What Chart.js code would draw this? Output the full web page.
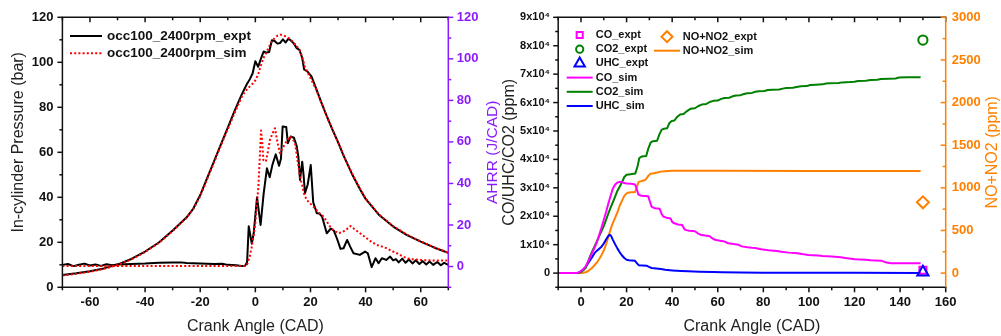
<!DOCTYPE html>
<html>
<head>
<meta charset="utf-8">
<title>Engine pressure, heat release and emissions</title>
<script src="https://cdn.jsdelivr.net/npm/chart.js@4.4.1/dist/chart.umd.min.js"></script>
<style>
  html, body { margin: 0; padding: 0; background: #fff; width: 1001px; height: 336px; overflow: hidden; }
  #wrap { position: relative; width: 1001px; height: 336px; }
  canvas { position: absolute; top: 0; }
  #emisChart { left: 500px; width: 501px; height: 336px; }
  #pressChart { left: 0; width: 506px; height: 336px; }
</style>
</head>
<body>
<div id="wrap">
  <canvas id="emisChart" width="501" height="336"></canvas>
  <canvas id="pressChart" width="506" height="336"></canvas>
</div>
<script>
// In-cylinder pressure (bar) against crank angle (CAD), [CAD, bar]
const pressureExpt = [
  [-70,5.5],[-65,6.2],[-60,7.1],[-55,8.4],[-50,10.1],[-45,12.6],[-40,15.9],[-35,19.9],[-30,25.2],
  [-25,31],[-22.5,35],[-20,41],[-17.5,48.5],[-15,56],[-12.5,63.5],[-10,71],[-7.5,78.5],[-5,85.5],
  [-4,88],[-3,90.5],[-2,92.5],[-1,95],[0,100.5],[1,98],[2,101.5],[3,104.8],[4,104.3],[5,104.6],
  [6,109.8],[7,109.5],[8,108.3],[9,108.6],[10,110.2],[11,108.8],[12,110.5],[13,109.6],[14,108.3],
  [15,106.3],[16,105.5],[17,102],[17.7,96.8],[19,95.8],[20.4,93.6],[22,88.5],[24,82],[26,75.8],
  [28,70],[30,64.5],[32,58.5],[35,50.5],[38,43.5],[40,39.3],[45,32],[50,27],[55,23.2],[60,20.3],
  [65,17.6],[70,15.3]
];
const pressureSim = [
  [-70,5.3],[-65,6.0],[-60,6.9],[-55,8.2],[-50,9.9],[-45,12.4],[-40,15.7],[-35,19.7],[-30,25],
  [-25,30.8],[-22.5,34.8],[-20,40.5],[-17.5,48],[-15,55.5],[-12.5,63],[-10,70.3],[-7.5,77.5],[-5,84.5],
  [-4,86.5],[-3,88],[-2,89.3],[-1,90.5],[0,92],[1,94.5],[2,98.5],[3,102],[4,104.5],[5,107],
  [6,109.3],[7,110.8],[8,111.8],[9,112.3],[10,112],[11,111.5],[12,110.8],[13,109.8],[14,108.6],
  [15,107.2],[16,105.5],[17,102.3],[18,98],[19,95.3],[20,93],[22,88],[24,81.8],[26,75.8],[28,70],
  [30,64.5],[32,58.7],[35,50.8],[38,43.8],[40,39.5],[45,32.2],[50,27.2],[55,23.4],[60,20.4],
  [65,17.7],[70,15.4]
];

// Apparent heat release rate (J/CAD), [CAD, J/CAD]
const ahrrExpt = [
  [-70,0.8],[-68,1.2],[-66,0.2],[-64,0.9],[-62,1.4],[-60,0.5],[-58,1.0],[-56,0.3],[-54,1.1],[-52,0.6],
  [-50,1.0],[-45,1.2],[-40,1.4],[-35,1.8],[-30,1.9],[-27,2.0],[-25,1.7],[-20,1.5],[-15,1.2],[-12,1.3],
  [-10,0.8],[-7,0.6],[-5,0.3],[-3.8,0.2],[-3,2],[-2.4,19.4],[-1.3,11],[-0.6,16],[0.6,33.3],[1.9,20],
  [3,35],[4.2,47.3],[5.2,43],[6.2,49],[7.4,54],[8.6,48.5],[9.3,52],[9.9,67.4],[11.2,67.2],[11.8,59.4],
  [12.8,62.6],[14,62],[15,58],[15.6,52.9],[16.2,41.7],[17,50.5],[17.5,44],[18,35.3],[19,39.5],
  [20.1,48.9],[21,30.9],[22.3,25.7],[23.2,25.5],[24.2,24.1],[25.9,16],[27.4,18.3],[28.5,17.2],
  [29.6,13.5],[30.9,8.5],[32,8.8],[33.3,12.8],[34.4,9.6],[35.6,6.4],[37.9,5.6],[39.8,7.2],[40.8,6.4],
  [42.2,-0.3],[43.6,4.0],[44.7,1.6],[45.9,4.0],[47.5,3.2],[48.9,4.8],[50,3.0],[51,3.6],[52,2.0],
  [53.3,3.8],[54.5,1.8],[55.7,3.4],[57,1.5],[58.2,3.0],[59.5,1.2],[60.7,2.6],[62,1.0],[63.2,2.4],
  [64.5,0.8],[66,2.2],[67.3,0.6],[68.5,1.8],[70,0.8]
];
const ahrrSim = [
  [-70,0.2],[-40,0.2],[-10,0.2],[-4,0.3],[-3,1],[-2,5],[-1.3,9.6],[-0.5,16],[0,21],[0.5,29],
  [1.1,38.5],[1.6,52],[2.06,65.5],[2.5,60],[2.9,51.3],[3.8,50.5],[4.5,55],[5.3,61],[6.2,64],
  [7.1,66.6],[8,60],[8.9,54.6],[10.2,57.7],[11.2,60],[12.6,62.6],[13.5,61.5],[14.4,59.4],[15.3,51],
  [16.2,43.3],[16.8,40.1],[17.7,35],[18.6,32.1],[19.8,30.5],[21,28.9],[23,26],[24.7,24.1],[26,21.5],
  [27.1,19.2],[28.5,17.3],[30.1,16.1],[31.5,16.5],[33,17.8],[34.5,19.5],[36,18],[38,16],[40.4,13.6],
  [42,12],[44,10.4],[46,9.6],[47.6,8.8],[49.5,7.5],[51.3,6.4],[53,5.2],[54.9,4],[57,3.5],[59.7,3.2],
  [62,3],[64.6,2.9],[67,2.9],[70,2.9]
];

// Simulated exhaust species (ppm), [CAD, ppm]
const coSim = [
  [-10,0],[-2,0],[-1,200],[0,700],[1,1400],[2,2300],[3,3800],[4,5600],[5,7300],[6,9000],[7,11000],
  [8,13500],[9,16000],[10,18800],[11,21500],[12,24500],[13,27200],[14,29800],[15,31200],[16,31900],
  [17,32100],[18,32000],[19,31700],[20,31500],[22,31400],[23.7,31200],[24.5,29500],[25.2,27600],
  [26.5,27200],[29.5,27000],[30.3,25000],[31,23300],[32.5,22800],[34.5,22600],[35.3,21000],[36.1,19900],
  [37.5,19500],[39.3,19200],[40,18000],[40.7,17600],[42.5,17100],[44.4,16900],[45,16000],[45.7,15200],
  [47.5,14900],[50,14700],[51.2,14000],[52.4,13500],[54.5,13200],[56.5,13000],[57.5,12300],[58.8,11700],
  [61,11400],[63,11100],[64.6,10500],[67,10200],[69,10000],[70.5,9400],[73,9100],[75,8900],[76.4,8800],
  [79,8400],[82.2,8000],[86,7800],[88,7500],[91,7200],[95,7000],[97,6700],[99.7,6400],[104,6200],
  [106,6000],[110,5800],[114,5600],[116,5300],[120.2,4900],[125,4700],[127,4500],[129,4400],[132,4300],
  [134,3700],[136,3500],[149,3500]
];
const co2Sim = [
  [-10,0],[-2,0],[-1,100],[0,400],[1,1000],[2,1800],[3,3800],[4,6000],[5,7800],[6,9500],[7,11200],
  [8,13000],[9,14800],[10,16500],[11,18700],[12,21000],[13,23000],[14,25000],[15,27000],[16,29000],
  [17,30500],[18,32000],[19,33800],[20,34600],[21,34700],[23.8,35000],[24.8,37500],[25.6,40500],
  [26.6,41000],[28.6,41200],[29.6,44000],[30.6,46000],[31.6,46400],[33.4,46600],[34.4,48800],[35.4,50500],
  [36.4,50800],[37.8,51000],[38.8,52800],[39.8,53500],[41,53700],[42,54800],[43.5,55800],[45,56000],
  [46.5,57000],[48,57800],[50,58000],[51.5,58800],[53,59300],[55,59500],[56.5,60200],[58,60600],
  [60,60700],[61.5,61300],[63,61600],[65,61700],[66.5,62200],[68,62500],[70,62600],[71.5,63000],
  [73,63300],[75,63400],[76.5,63800],[78,64000],[80.5,64100],[82,64400],[84,64500],[87,64600],
  [88.5,64900],[90,65100],[93,65200],[94.5,65500],[96.5,65700],[99,65800],[100.5,66200],[103,66300],
  [106,66400],[107.5,66700],[109,66800],[113,66900],[114.5,67100],[118,67200],[120,67300],[121.5,67600],
  [125,67700],[127,67900],[130,68000],[131.5,68300],[135,68400],[138,68500],[139.5,68800],[143,68900],
  [149,68900]
];
const uhcSim = [
  [-10,0],[-2,0],[-1,150],[0,600],[1,1200],[2,2100],[3,3300],[4,4500],[5,5800],[6,7100],[7,7900],
  [8,8600],[9,9300],[10,10400],[11,11800],[12,13100],[12.6,13500],[13.2,13100],[14,11700],[15,10100],
  [16,8600],[17,7300],[18,6200],[19,5300],[20,4700],[21,4500],[23.7,4300],[24.5,3500],[25.3,2800],
  [27,2700],[28.8,2600],[29.8,2200],[31,1800],[33,1600],[35,1400],[37,1150],[40,950],[44,750],[47,620],
  [52,480],[58,360],[62,300],[70,220],[80,160],[100,110],[120,80],[149,60]
];
const noxSim = [
  [-10,0],[0,0],[1,3],[2,10],[3,22],[4,42],[5,65],[6,95],[7,125],[8,165],[9,210],[10,265],[11,340],
  [12,425],[13,515],[14,590],[15,650],[16,715],[17,790],[18,850],[19,905],[20,935],[21,945],[23.7,950],
  [24.5,1010],[25.3,1070],[27.5,1085],[28.5,1100],[29.5,1140],[30.5,1165],[32,1172],[33.5,1180],
  [35,1190],[37,1195],[40,1200],[60,1200],[100,1198],[149,1198]
];

// Measured exhaust values at 150 CAD (ppm)
const coExpt = [[150, 1000]];
const co2Expt = [[150, 82000]];
const uhcExpt = [[150, 300]];
const noxExpt = [[150, 830]];

// Axis tick values and labels
const pressureAngleTicks = [-60, -40, -20, 0, 20, 40, 60];
const pressureTicks = [0, 20, 40, 60, 80, 100, 120];
const ahrrTicks = [0, 20, 40, 60, 80, 100, 120];
const emisAngleTicks = [0, 20, 40, 60, 80, 100, 120, 140, 160];
const emisTicks = [0, 10000, 20000, 30000, 40000, 50000, 60000, 70000, 80000, 90000];
const emisTickLabels = ['0', '1x10⁴', '2x10⁴', '3x10⁴', '4x10⁴', '5x10⁴', '6x10⁴', '7x10⁴', '8x10⁴', '9x10⁴'];
const noxTicks = [0, 500, 1000, 1500, 2000, 2500, 3000];

const FONT = "'Liberation Sans', Arial, Helvetica, sans-serif";
const PURPLE = '#8c1aff';
const ORANGE = '#ff8000';
const pts = a => a.map(([x, y]) => ({ x, y }));

// minor tick values: half steps between (and just outside) the major ticks
function minorOf(major, lo, hi) {
  const out = [];
  const step = major[1] - major[0];
  for (let v = major[0] - step / 2; v <= hi + 1e-9; v += step) if (v >= lo - 1e-9) out.push(v);
  return out;
}

// axis frame with major/minor tick marks, inward or outward per side
const framePlugin = {
  id: 'frame',
  afterDatasetsDraw(chart, _args, opts) {
    const { ctx, chartArea: a } = chart;
    ctx.save();
    ctx.lineCap = 'butt';
    for (const s of opts.sides) {
      const sc = chart.scales[s.scale];
      const horiz = s.side === 'top' || s.side === 'bottom';
      const pos = a[s.side];
      const out = (s.side === 'left' || s.side === 'top') ? -1 : 1;
      const dir = s.inward ? -out : out;
      ctx.strokeStyle = s.color;
      ctx.lineWidth = s.lineWidth;
      ctx.beginPath();
      if (horiz) { ctx.moveTo(a.left - s.lineWidth / 2, pos); ctx.lineTo(a.right + s.lineWidth / 2, pos); }
      else { ctx.moveTo(pos, a.top); ctx.lineTo(pos, a.bottom); }
      ctx.stroke();
      const major = sc.ticks.map(t => t.value);
      const draw = (vals, len) => {
        for (const v of vals) {
          const p = sc.getPixelForValue(v);
          ctx.beginPath();
          if (horiz) { ctx.moveTo(p, pos); ctx.lineTo(p, pos + dir * len); }
          else { ctx.moveTo(pos, p); ctx.lineTo(pos + dir * len, p); }
          ctx.stroke();
        }
      };
      draw(major, 5);
      draw(minorOf(major, sc.min, sc.max), 3);
    }
    ctx.restore();
  }
};

// vertical axis titles, reading bottom to top on both sides
const sideTitles = {
  id: 'sideTitles',
  afterDraw(chart, _args, opts) {
    const { ctx, chartArea: a } = chart;
    for (const t of opts.items) {
      ctx.save();
      ctx.translate(t.x, (a.top + a.bottom) / 2 + (t.dy || 0));
      ctx.rotate(-Math.PI / 2);
      ctx.font = `${t.size}px ${FONT}`;
      ctx.fillStyle = t.color;
      ctx.textAlign = 'center';
      ctx.textBaseline = 'middle';
      ctx.fillText(t.text, 0, 0);
      ctx.restore();
    }
  }
};

function drawMarker(ctx, style, x, y, r) {
  ctx.beginPath();
  if (style === 'rect') {
    const s = r * Math.SQRT1_2;
    ctx.rect(x - s, y - s, 2 * s, 2 * s);
  } else if (style === 'circle') {
    ctx.arc(x, y, r, 0, Math.PI * 2);
  } else if (style === 'triangle') {
    ctx.moveTo(x, y - r);
    ctx.lineTo(x + r * 0.866, y + r * 0.5);
    ctx.lineTo(x - r * 0.866, y + r * 0.5);
    ctx.closePath();
  } else if (style === 'rectRot') {
    ctx.moveTo(x - r, y); ctx.lineTo(x, y - r); ctx.lineTo(x + r, y); ctx.lineTo(x, y + r);
    ctx.closePath();
  }
  ctx.stroke();
}

// legend laid out in columns inside the plot area
const legendPlugin = {
  id: 'legendCols',
  afterDraw(chart, _args, opts) {
    const { ctx } = chart;
    ctx.save();
    ctx.font = opts.font;
    ctx.textBaseline = 'middle';
    ctx.textAlign = 'left';
    for (const col of opts.columns) {
      col.ds.forEach((i, k) => {
        const d = chart.data.datasets[i];
        const y = col.y + k * col.row;
        if (d.showLine === false) {
          ctx.strokeStyle = d.pointBorderColor;
          ctx.lineWidth = d.pointBorderWidth;
          drawMarker(ctx, d.pointStyle, col.x + col.w / 2, y, d.legendRadius);
        } else {
          ctx.strokeStyle = d.borderColor;
          ctx.lineWidth = d.borderWidth;
          ctx.setLineDash(d.borderDash || []);
          ctx.beginPath();
          ctx.moveTo(col.x, y);
          ctx.lineTo(col.x + col.w, y);
          ctx.stroke();
          ctx.setLineDash([]);
        }
        ctx.fillStyle = '#111';
        ctx.fillText(d.label, col.x + col.w + col.gap, y);
      });
    }
    ctx.restore();
  }
};

const tickFont = size => ({ family: FONT, size, weight: 'bold' });
const fixedTicks = values => scale => { scale.ticks = values.map(value => ({ value })); };
const hidden = { grid: { display: false, drawTicks: false }, border: { display: false } };
const xTitle = { display: true, text: 'Crank Angle (CAD)', color: '#222', font: { family: FONT, size: 16 }, padding: 0 };
const common = {
  responsive: false, animation: false, devicePixelRatio: 1, events: [],
  elements: { line: { tension: 0, borderJoinStyle: 'round' }, point: { radius: 0 } }
};

// ---- pressure and heat release ----
new Chart(document.getElementById('pressChart'), {
  type: 'line',
  data: {
    datasets: [
      { label: 'occ100_2400rpm_sim', data: pts(pressureSim), yAxisID: 'y', borderColor: '#ff0000',
        borderWidth: 2, borderDash: [2, 2.2], pointRadius: 0, order: 0 },
      { label: 'occ100_2400rpm_expt', data: pts(pressureExpt), yAxisID: 'y', borderColor: '#000000',
        borderWidth: 2, pointRadius: 0, order: 1 },
      { label: 'AHRR_sim', data: pts(ahrrSim), yAxisID: 'y2', borderColor: '#ff0000',
        borderWidth: 2, borderDash: [2, 2.2], pointRadius: 0, order: 0 },
      { label: 'AHRR_expt', data: pts(ahrrExpt), yAxisID: 'y2', borderColor: '#000000',
        borderWidth: 2, pointRadius: 0, order: 1 }
    ]
  },
  options: {
    ...common,
    layout: { padding: { top: 17.3, left: 0, right: 0, bottom: 0 } },
    plugins: {
      legend: { display: false }, tooltip: { enabled: false },
      frame: { sides: [
        { scale: 'x', side: 'bottom', color: '#111', lineWidth: 1.5 },
        { scale: 'x', side: 'top', color: '#111', lineWidth: 1.5, inward: true },
        { scale: 'y', side: 'left', color: '#111', lineWidth: 1.5 },
        { scale: 'y2', side: 'right', color: PURPLE, lineWidth: 1.5 }
      ] },
      sideTitles: { items: [
        { text: 'In-cylinder Pressure (bar)', x: 18.3, dy: -10, size: 16, color: '#222' },
        { text: 'AHRR (J/CAD)', x: 493, size: 15.5, color: PURPLE }
      ] },
      legendCols: { font: `bold 13.5px ${FONT}`, columns: [
        { x: 70, w: 32, gap: 5, y: 36, row: 17.3, ds: [1, 0] }
      ] }
    },
    scales: {
      x: { type: 'linear', min: -70, max: 70, ...hidden,
        afterBuildTicks: fixedTicks(pressureAngleTicks),
        afterFit: s => { s.height = 48.7; },
        ticks: { padding: 7.6, color: '#111', font: tickFont(13), autoSkip: false, maxRotation: 0,
          callback: v => String(v) },
        title: xTitle },
      y: { type: 'linear', position: 'left', min: 0, max: 120, ...hidden,
        afterBuildTicks: fixedTicks(pressureTicks),
        afterFit: s => { s.width = 62.4; },
        ticks: { padding: 9, color: '#111', font: tickFont(13), autoSkip: false, callback: v => String(v) } },
      y2: { type: 'linear', position: 'right', min: -10, max: 120, ...hidden,
        afterBuildTicks: fixedTicks(ahrrTicks),
        afterFit: s => { s.width = 57.7; },
        ticks: { padding: 8.4, color: PURPLE, font: tickFont(13), autoSkip: false, callback: v => String(v) } }
    }
  },
  plugins: [framePlugin, sideTitles, legendPlugin]
});

// ---- exhaust species ----
new Chart(document.getElementById('emisChart'), {
  type: 'line',
  data: {
    datasets: [
      { label: 'CO_sim', data: pts(coSim), yAxisID: 'y', borderColor: '#ff00ff', borderWidth: 2, pointRadius: 0, order: 2 },
      { label: 'CO2_sim', data: pts(co2Sim), yAxisID: 'y', borderColor: '#008000', borderWidth: 2, pointRadius: 0, order: 2 },
      { label: 'UHC_sim', data: pts(uhcSim), yAxisID: 'y', borderColor: '#0000ff', borderWidth: 2, pointRadius: 0, order: 2 },
      { label: 'NO+NO2_sim', data: pts(noxSim), yAxisID: 'y2', borderColor: ORANGE, borderWidth: 2, pointRadius: 0, order: 2 },
      { label: 'CO_expt', data: pts(coExpt), yAxisID: 'y', showLine: false, pointStyle: 'rect', pointRadius: 5,
        legendRadius: 4.3, pointBorderColor: '#ff00ff', pointBorderWidth: 2, pointBackgroundColor: 'rgba(0,0,0,0)', order: 1 },
      { label: 'CO2_expt', data: pts(co2Expt), yAxisID: 'y', showLine: false, pointStyle: 'circle', pointRadius: 4.6,
        legendRadius: 3.6, pointBorderColor: '#008000', pointBorderWidth: 2, pointBackgroundColor: 'rgba(0,0,0,0)', order: 1 },
      { label: 'UHC_expt', data: pts(uhcExpt), yAxisID: 'y', showLine: false, pointStyle: 'triangle', pointRadius: 6.5,
        legendRadius: 6, pointBorderColor: '#0000ff', pointBorderWidth: 2, pointBackgroundColor: 'rgba(0,0,0,0)', order: 0 },
      { label: 'NO+NO2_expt', data: pts(noxExpt), yAxisID: 'y2', showLine: false, pointStyle: 'rectRot', pointRadius: 6,
        legendRadius: 5.5, pointBorderColor: ORANGE, pointBorderWidth: 2, pointBackgroundColor: 'rgba(0,0,0,0)', order: 1 }
    ]
  },
  options: {
    ...common,
    layout: { padding: { top: 17.3, left: 0, right: 0, bottom: 0 } },
    plugins: {
      legend: { display: false }, tooltip: { enabled: false },
      frame: { sides: [
        { scale: 'x', side: 'bottom', color: '#111', lineWidth: 1.5 },
        { scale: 'x', side: 'top', color: '#111', lineWidth: 1.5, inward: true },
        { scale: 'y', side: 'left', color: '#111', lineWidth: 1.5 },
        { scale: 'y2', side: 'right', color: ORANGE, lineWidth: 1.5, inward: true }
      ] },
      sideTitles: { items: [
        { text: 'CO/UHC/CO2 (ppm)', x: 10, size: 16, color: '#222' },
        { text: 'NO+NO2 (ppm)', x: 493, size: 16, color: ORANGE }
      ] },
      legendCols: { font: `bold 11px ${FONT}`, columns: [
        { x: 66.7, w: 26, gap: 3, y: 35, row: 14.2, ds: [4, 5, 6, 0, 1, 2] },
        { x: 154, w: 26, gap: 2.7, y: 36.7, row: 14, ds: [7, 3] }
      ] }
    },
    scales: {
      x: { type: 'linear', min: -10, max: 160, ...hidden,
        afterBuildTicks: fixedTicks(emisAngleTicks),
        afterFit: s => { s.height = 48.7; },
        ticks: { padding: 7.6, color: '#111', font: tickFont(13), autoSkip: false, maxRotation: 0,
          callback: v => String(v) },
        title: xTitle },
      y: { type: 'linear', position: 'left', min: -5000, max: 90000, ...hidden,
        afterBuildTicks: fixedTicks(emisTicks),
        afterFit: s => { s.width = 58.2; },
        ticks: { padding: 8.2, color: '#111', font: tickFont(11), autoSkip: false,
          callback: (v, i) => emisTickLabels[i] } },
      y2: { type: 'linear', position: 'right', min: -3000 / 18, max: 3000, ...hidden,
        afterBuildTicks: fixedTicks(noxTicks),
        afterFit: s => { s.width = 55.3; },
        ticks: { padding: 6, color: ORANGE, font: tickFont(13), autoSkip: false, callback: v => String(v) } }
    }
  },
  plugins: [framePlugin, sideTitles, legendPlugin]
});
</script>
</body>
</html>
